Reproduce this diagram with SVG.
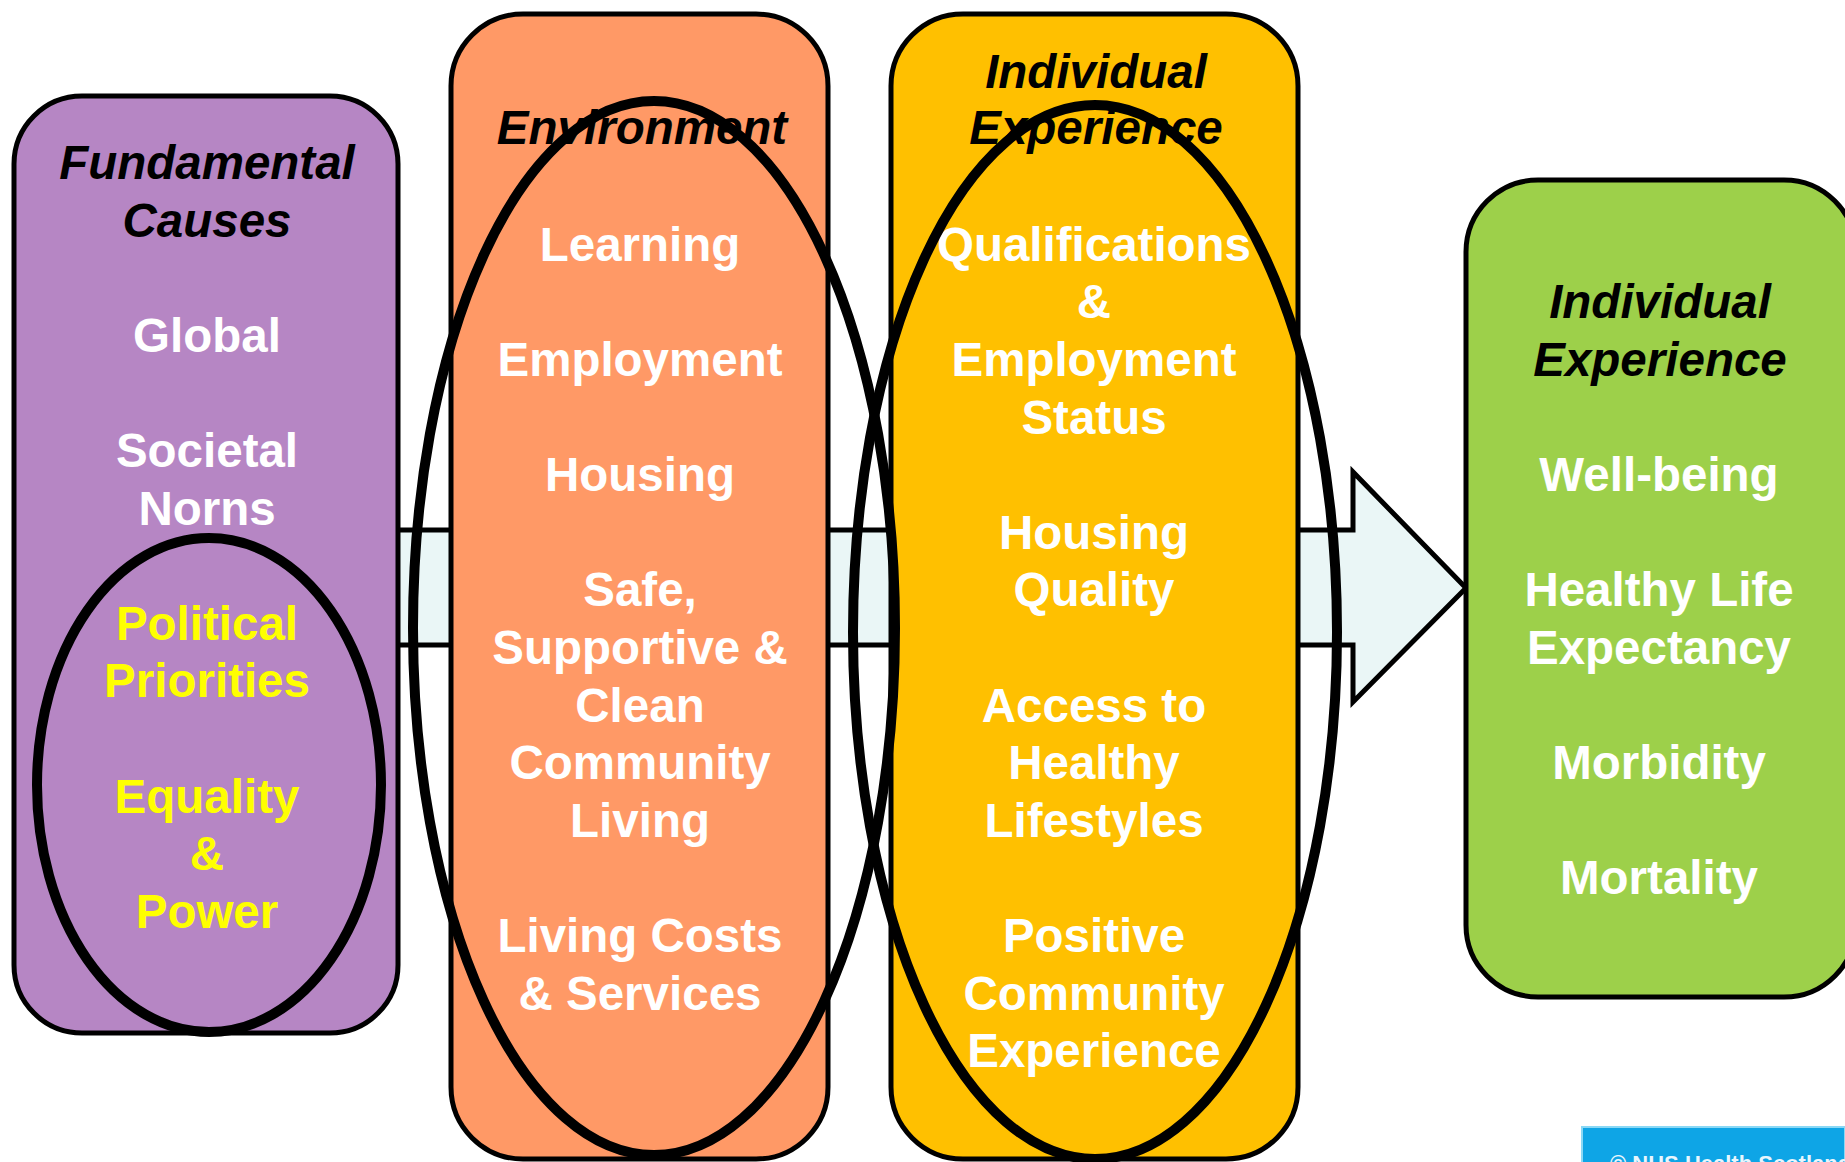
<svg xmlns="http://www.w3.org/2000/svg" width="1845" height="1162" viewBox="0 0 1845 1162">
<style>
  .box { stroke: #000; stroke-width: 5; }
  .ell { fill: none; stroke: #000; stroke-width: 10; }
  text { font-family: "Liberation Sans", Arial, sans-serif; font-weight: bold; font-size: 47.5px; text-anchor: middle; }
  .title { font-style: italic; fill: #000; }
  .w { fill: #fff; }
  .y { fill: #ffff00; }
</style>
<rect x="0" y="0" width="1845" height="1162" fill="#fff"/>
<g id="connectors">
  <path id="arrow" d="M 360 530 H 1353 V 472 L 1466 588 L 1353 702 V 645 H 360 Z" fill="#EAF6F6" stroke="#000" stroke-width="5" stroke-linejoin="miter"/>
</g>
<g id="fundamental-causes">
  <rect class="box" x="14" y="96" width="384" height="937" rx="68" fill="#B686C4"/>
  <text class="title" x="207" y="179">Fundamental</text>
  <text class="title" x="207" y="236.6">Causes</text>
  <text class="w" x="207" y="351.8">Global</text>
  <text class="w" x="207" y="467">Societal</text>
  <text class="w" x="207" y="524.6">Norns</text>
  <text class="y" x="207" y="639.8">Political</text>
  <text class="y" x="207" y="697.4">Priorities</text>
  <text class="y" x="207" y="812.6">Equality</text>
  <text class="y" x="207" y="870.2">&amp;</text>
  <text class="y" x="207" y="927.8">Power</text>
</g>
<g id="environment">
  <rect class="box" x="451" y="14" width="377" height="1145" rx="72" fill="#FF9966"/>
  <text class="title" x="642" y="144">Environment</text>
  <text class="w" x="640" y="260.8">Learning</text>
  <text class="w" x="640" y="376">Employment</text>
  <text class="w" x="640" y="491.2">Housing</text>
  <text class="w" x="640" y="606.4">Safe,</text>
  <text class="w" x="640" y="664">Supportive &amp;</text>
  <text class="w" x="640" y="721.6">Clean</text>
  <text class="w" x="640" y="779.2">Community</text>
  <text class="w" x="640" y="836.8">Living</text>
  <text class="w" x="640" y="952">Living Costs</text>
  <text class="w" x="640" y="1009.6">&amp; Services</text>
</g>
<g id="individual-experience-1">
  <rect class="box" x="891" y="14" width="407" height="1145" rx="72" fill="#FFC000"/>
  <text class="title" x="1096" y="88">Individual</text>
  <text class="title" x="1096" y="144">Experience</text>
  <text class="w" x="1094" y="260.8">Qualifications</text>
  <text class="w" x="1094" y="318.4">&amp;</text>
  <text class="w" x="1094" y="376">Employment</text>
  <text class="w" x="1094" y="433.6">Status</text>
  <text class="w" x="1094" y="548.8">Housing</text>
  <text class="w" x="1094" y="606.4">Quality</text>
  <text class="w" x="1094" y="721.6">Access to</text>
  <text class="w" x="1094" y="779.2">Healthy</text>
  <text class="w" x="1094" y="836.8">Lifestyles</text>
  <text class="w" x="1094" y="952">Positive</text>
  <text class="w" x="1094" y="1009.6">Community</text>
  <text class="w" x="1094" y="1067.2">Experience</text>
</g>
<g id="individual-experience-2">
  <rect class="box" x="1466" y="180" width="390" height="817" rx="72" fill="#9DD04A"/>
  <text class="title" x="1660" y="318.4">Individual</text>
  <text class="title" x="1660" y="376">Experience</text>
  <text class="w" x="1659" y="491.2">Well-being</text>
  <text class="w" x="1659" y="606.4">Healthy Life</text>
  <text class="w" x="1659" y="664">Expectancy</text>
  <text class="w" x="1659" y="779.2">Morbidity</text>
  <text class="w" x="1659" y="894.4">Mortality</text>
</g>
<g id="ellipses">
  <ellipse class="ell" cx="209" cy="785" rx="172" ry="247"/>
  <ellipse class="ell" cx="654" cy="628" rx="241" ry="527"/>
  <ellipse class="ell" cx="1095" cy="632" rx="242" ry="527"/>
</g>
<g id="credit">
  <rect x="1582" y="1127" width="263" height="40" fill="#0EA5E6" stroke="#8AD8F5" stroke-width="2"/>
  <text x="1610" y="1171" style="font-size:22px; text-anchor:start; fill:#E8F6FD;">© NHS Health Scotland</text>
</g>
</svg>
